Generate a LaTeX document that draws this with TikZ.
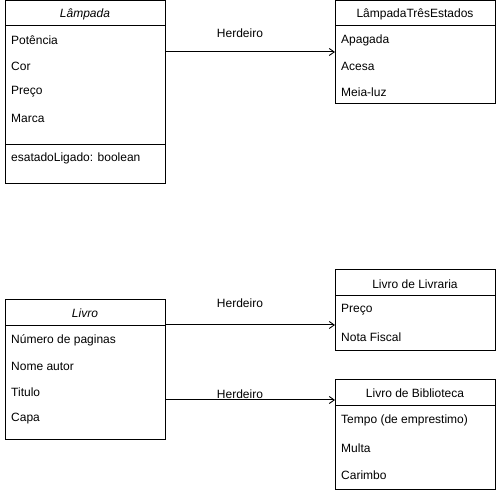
\documentclass[tikz,border=0pt]{standalone}
\usepackage{fontspec}
\setmainfont{Liberation Sans}
\usetikzlibrary{arrows.meta}
\begin{document}
\begin{tikzpicture}[x=1pt,y=-1pt,
  box/.style={draw=black,line width=1pt,fill=white},
  sep/.style={draw=black,line width=1pt},
  title/.style={font=\fontsize{12}{14}\selectfont,anchor=center,inner sep=0pt},
  item/.style={font=\fontsize{12}{14}\selectfont,anchor=west,inner sep=0pt},
  conn/.style={draw=black,line width=1pt,-{Straight Barb[length=5pt,width=7pt,line width=0.9pt]}},
  lbl/.style={font=\fontsize{12}{14}\selectfont,inner sep=0pt}]
\useasboundingbox (0,0) rectangle (496,494);
% Lampada
\draw[box] (5,1) rectangle (165,184);
\draw[sep] (5,26) -- (165,26);
\draw[sep] (5,145) -- (165,145);
\node[title] (lamT) at (85,14) {\itshape Lâmpada};
\node[item] (lam1) at (11,40) {Potência};
\node[item] (lam2) at (11,66) {Cor};
\node[item] (lam3) at (11,92) {Preço};
\node[item] (lam4) at (11,118) {Marca};
\node[item] (lam5) at (11,158) {esatadoLigado: boolean};
\coordinate (lamR) at (165,52);
% Lampada tres estados
\draw[box] (335,1) rectangle (495,104);
\draw[sep] (335,26) -- (495,26);
\node[title] (ltT) at (415,14) {LâmpadaTrêsEstados};
\node[item] (lt1) at (341,40) {Apagada};
\node[item] (lt2) at (341,66) {Acesa};
\node[item] (lt3) at (341,92) {Meia-luz};
\coordinate (ltL) at (335,52);
% Livro
\draw[box] (5,300) rectangle (165,440);
\draw[sep] (5,326) -- (165,326);
\node[title] (livT) at (85,313) {\itshape Livro};
\node[item] (liv1) at (11,340) {Número de paginas};
\node[item] (liv2) at (11,366) {Nome autor};
\node[item] (liv3) at (11,392) {Titulo};
\node[item] (liv4) at (11,419) {Capa};
\coordinate (livR1) at (165,325);
\coordinate (livR2) at (165,400);
% Livro de Livraria
\draw[box] (335,270) rectangle (495,351);
\draw[sep] (335,296) -- (495,296);
\node[title] (llT) at (415,284) {Livro de Livraria};
\node[item] (ll1) at (341,310) {Preço};
\node[item] (ll2) at (341,337) {Nota Fiscal};
\coordinate (llL) at (335,325);
% Livro de Biblioteca
\draw[box] (335,380) rectangle (495,490);
\draw[sep] (335,406) -- (495,406);
\node[title] (lbT) at (415,393) {Livro de Biblioteca};
\node[item] (lb1) at (341,420) {Tempo (de emprestimo)};
\node[item] (lb2) at (341,448) {Multa};
\node[item] (lb3) at (341,475) {Carimbo};
\coordinate (lbL) at (335,400);
% connectors
\draw[conn] (lamR) -- (ltL);
\node[lbl] (h1) at (240,33) {Herdeiro};
\draw[conn] (livR1) -- (llL);
\node[lbl] (h2) at (240,303) {Herdeiro};
\draw[conn] (livR2) -- (lbL);
\node[lbl] (h3) at (240,394) {Herdeiro};
\end{tikzpicture}
\end{document}
